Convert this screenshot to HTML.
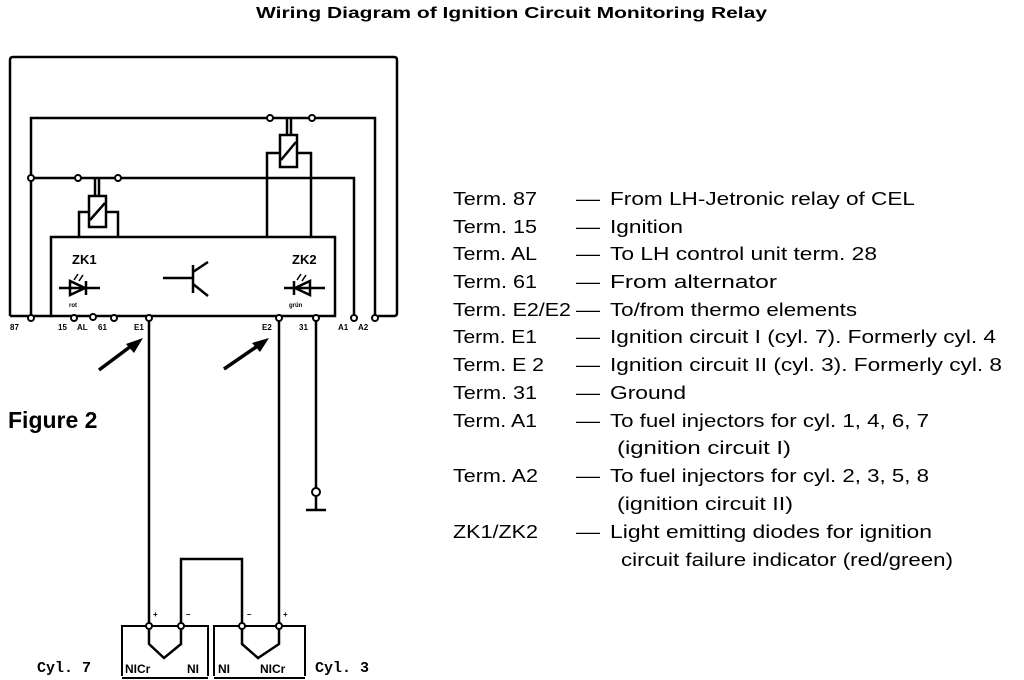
<!DOCTYPE html>
<html><head><meta charset="utf-8"><style>
html,body{margin:0;padding:0;background:#fff;}
svg{display:block;}
text{font-family:"Liberation Sans",sans-serif;fill:#000;}
</style></head><body>
<svg width="1024" height="680" viewBox="0 0 1024 680" xmlns="http://www.w3.org/2000/svg">
<text x="256" y="18" font-size="16" font-weight="bold" textLength="511" lengthAdjust="spacingAndGlyphs">Wiring Diagram of Ignition Circuit Monitoring Relay</text>
<g stroke="#000" stroke-width="2.5" fill="none">
<path d="M10 316 L10 60 Q10 57 13 57 L394 57 Q397 57 397 60 L397 313 Q397 316 394 316 L378 316"/>
<path d="M10 316 L51 316"/>
<path d="M31 316 L31 118 L375 118 L375 316"/>
<path d="M31 178 L354 178 L354 316"/>
<rect x="51" y="237" width="284" height="79"/>
<path d="M95 178 L95 196 M99 178 L99 196"/>
<rect x="89" y="196" width="17" height="31"/>
<path d="M90 220 L105 203"/>
<path d="M79 237 L79 212 L89 212 M106 212 L118 212 L118 237"/>
<path d="M287 118 L287 136 M291 118 L291 136"/>
<rect x="280" y="135" width="17" height="32"/>
<path d="M281 160 L296 142"/>
<path d="M267 237 L267 153 L280 153 M297 153 L311 153 L311 237"/>
<path d="M149 319 L149 626 M279 319 L279 626 M316 319 L316 488"/>
<path d="M306 510 L326 510 M316 496 L316 510"/>
<path d="M181 626 L181 559 L242 559 L242 626"/>
<path d="M122 676 L122 626 L208 626 L208 676 M122 678 L208 678" stroke-width="2"/>
<path d="M214 676 L214 626 L305 626 L305 676 M214 678 L305 678" stroke-width="2"/>
<path d="M149 626 L149 644 L164 658 L181 644 L181 626"/>
<path d="M242 626 L242 644 L258 658 L279 644 L279 626"/>
<path d="M163 278 L192 278 M193 265 L193 293 M193 272 L208 262 M193 284 L208 296"/>
<path d="M59 288 L100 288 M70 281 L70 295 L85 288 Z M86 281 L86 295"/>
<path d="M284 288 L325 288 M310 281 L310 295 L295 288 Z M294 281 L294 295"/>
<path d="M74 280 L78 274 M79 281 L83 275" stroke-width="1.5"/>
<path d="M297 280 L301 274 M302 281 L306 275" stroke-width="1.5"/>
<path d="M99 370 L135 343 M224 369 L262 343" stroke-width="3.5"/>
</g>
<polygon points="143,338 126,344 134,353" fill="#000"/>
<polygon points="269,338 252,343 260,352" fill="#000"/>
<g fill="#fff" stroke="#000" stroke-width="2">
<circle cx="31" cy="178" r="3"/><circle cx="78" cy="178" r="3"/><circle cx="118" cy="178" r="3"/>
<circle cx="270" cy="118" r="3"/><circle cx="312" cy="118" r="3"/>
<circle cx="31" cy="318" r="3"/><circle cx="74" cy="318" r="3"/><circle cx="93" cy="317" r="3"/><circle cx="114" cy="318" r="3"/>
<circle cx="149" cy="318" r="3"/><circle cx="279" cy="318" r="3"/><circle cx="316" cy="318" r="3"/>
<circle cx="354" cy="318" r="3"/><circle cx="375" cy="318" r="3"/>
<circle cx="316" cy="492" r="4"/>
<circle cx="149" cy="626" r="3"/><circle cx="181" cy="626" r="3"/><circle cx="242" cy="626" r="3"/><circle cx="279" cy="626" r="3"/>
</g>
<g font-size="8" font-weight="bold">
<text x="10" y="330">87</text><text x="58" y="330">15</text><text x="77" y="330">AL</text><text x="98" y="330">61</text>
<text x="134" y="330">E1</text><text x="262" y="330">E2</text><text x="299" y="330">31</text><text x="338" y="330">A1</text><text x="358" y="330">A2</text>
<text x="69" y="307" font-size="6">rot</text><text x="289" y="307" font-size="6">grün</text>
<text x="153" y="617">+</text><text x="186" y="617">–</text><text x="247" y="617">–</text><text x="283" y="617">+</text>
</g>
<text x="72" y="264" font-size="13" font-weight="bold">ZK1</text>
<text x="292" y="264" font-size="13" font-weight="bold">ZK2</text>
<text x="8" y="428" font-size="23" font-weight="bold">Figure 2</text>
<text x="37" y="672" font-size="15" font-weight="bold" style="font-family:'Liberation Mono',monospace">Cyl. 7</text>
<text x="315" y="672" font-size="15" font-weight="bold" style="font-family:'Liberation Mono',monospace">Cyl. 3</text>
<g font-size="12" font-weight="bold">
<text x="125" y="673">NICr</text><text x="187" y="673">NI</text>
<text x="218" y="673">NI</text><text x="260" y="673">NICr</text>
</g>
<g font-size="18.5">
<text x="453" y="205" textLength="84" lengthAdjust="spacingAndGlyphs">Term. 87</text>
<text x="453" y="233" textLength="84" lengthAdjust="spacingAndGlyphs">Term. 15</text>
<text x="453" y="260" textLength="84" lengthAdjust="spacingAndGlyphs">Term. AL</text>
<text x="453" y="288" textLength="84" lengthAdjust="spacingAndGlyphs">Term. 61</text>
<text x="453" y="316" textLength="118" lengthAdjust="spacingAndGlyphs">Term. E2/E2</text>
<text x="453" y="343" textLength="84" lengthAdjust="spacingAndGlyphs">Term. E1</text>
<text x="453" y="371" textLength="91" lengthAdjust="spacingAndGlyphs">Term. E 2</text>
<text x="453" y="399" textLength="84" lengthAdjust="spacingAndGlyphs">Term. 31</text>
<text x="453" y="427" textLength="84" lengthAdjust="spacingAndGlyphs">Term. A1</text>
<text x="453" y="482" textLength="85" lengthAdjust="spacingAndGlyphs">Term. A2</text>
<text x="453" y="538" textLength="85" lengthAdjust="spacingAndGlyphs">ZK1/ZK2</text>
<text x="576" y="205" textLength="24" lengthAdjust="spacingAndGlyphs">—</text>
<text x="576" y="233" textLength="24" lengthAdjust="spacingAndGlyphs">—</text>
<text x="576" y="260" textLength="24" lengthAdjust="spacingAndGlyphs">—</text>
<text x="576" y="288" textLength="24" lengthAdjust="spacingAndGlyphs">—</text>
<text x="576" y="316" textLength="24" lengthAdjust="spacingAndGlyphs">—</text>
<text x="576" y="343" textLength="24" lengthAdjust="spacingAndGlyphs">—</text>
<text x="576" y="371" textLength="24" lengthAdjust="spacingAndGlyphs">—</text>
<text x="576" y="399" textLength="24" lengthAdjust="spacingAndGlyphs">—</text>
<text x="576" y="427" textLength="24" lengthAdjust="spacingAndGlyphs">—</text>
<text x="576" y="482" textLength="24" lengthAdjust="spacingAndGlyphs">—</text>
<text x="576" y="538" textLength="24" lengthAdjust="spacingAndGlyphs">—</text>
<text x="610" y="205" textLength="305" lengthAdjust="spacingAndGlyphs">From LH-Jetronic relay of CEL</text>
<text x="610" y="233" textLength="73" lengthAdjust="spacingAndGlyphs">Ignition</text>
<text x="610" y="260" textLength="267" lengthAdjust="spacingAndGlyphs">To LH control unit term. 28</text>
<text x="610" y="288" textLength="167" lengthAdjust="spacingAndGlyphs">From alternator</text>
<text x="610" y="316" textLength="247" lengthAdjust="spacingAndGlyphs">To/from thermo elements</text>
<text x="610" y="343" textLength="386" lengthAdjust="spacingAndGlyphs">Ignition circuit I (cyl. 7). Formerly cyl. 4</text>
<text x="610" y="371" textLength="392" lengthAdjust="spacingAndGlyphs">Ignition circuit II (cyl. 3). Formerly cyl. 8</text>
<text x="610" y="399" textLength="76" lengthAdjust="spacingAndGlyphs">Ground</text>
<text x="610" y="427" textLength="319" lengthAdjust="spacingAndGlyphs">To fuel injectors for cyl. 1, 4, 6, 7</text>
<text x="617" y="454" textLength="174" lengthAdjust="spacingAndGlyphs">(ignition circuit I)</text>
<text x="610" y="482" textLength="319" lengthAdjust="spacingAndGlyphs">To fuel injectors for cyl. 2, 3, 5, 8</text>
<text x="617" y="510" textLength="176" lengthAdjust="spacingAndGlyphs">(ignition circuit II)</text>
<text x="610" y="538" textLength="322" lengthAdjust="spacingAndGlyphs">Light emitting diodes for ignition</text>
<text x="621" y="566" textLength="332" lengthAdjust="spacingAndGlyphs">circuit failure indicator (red/green)</text>
</g>
</svg>
</body></html>
